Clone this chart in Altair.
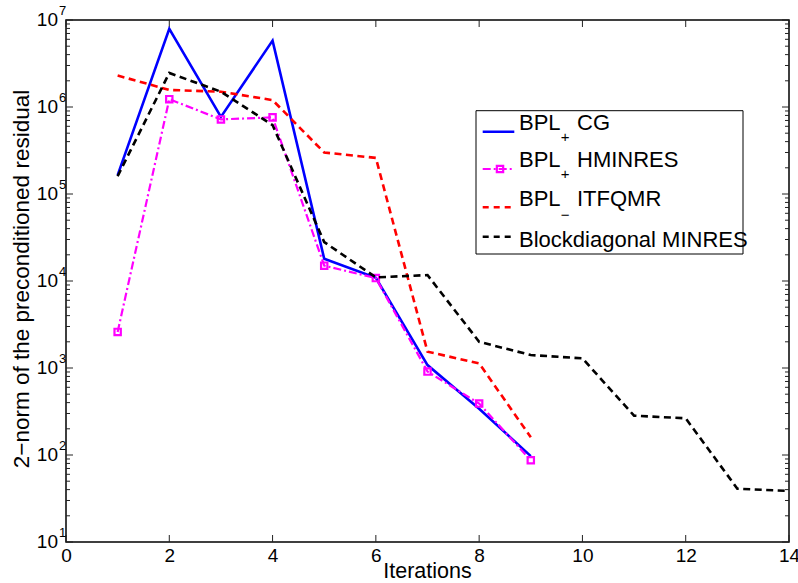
import altair as alt
import pandas as pd

# ---------------- data ----------------
iterations = list(range(1, 15))
cg_res = [1.65e5, 7.9e6, 7.7e5, 5.8e6, 1.8e4, 1.09e4, 1.08e3, 3.4e2, 9.7e1]
hminres_res = [2.6e3, 1.23e6, 7.2e5, 7.6e5, 1.5e4, 1.08e4, 9.1e2, 3.9e2, 8.7e1]
itfqmr_res = [2.3e6, 1.57e6, 1.5e6, 1.2e6, 3.0e5, 2.6e5, 1.54e3, 1.13e3, 1.6e2]
blockdiag_res = [1.6e5, 2.46e6, 1.5e6, 6.2e5, 2.8e4, 1.1e4, 1.17e4, 2.0e3, 1.41e3,
                 1.29e3, 2.83e2, 2.64e2, 4.1e1, 3.86e1]

x_tick_values = [0, 2, 4, 6, 8, 10, 12, 14]
y_decades = [1e1, 1e2, 1e3, 1e4, 1e5, 1e6, 1e7]
y_exponents = ["1", "2", "3", "4", "5", "6", "7"]
y_minor = [m * d for d in [1e1, 1e2, 1e3, 1e4, 1e5, 1e6] for m in range(2, 10)]

legend_main = ["BPL", "BPL", "BPL", "Blockdiagonal MINRES"]
legend_sub = ["+", "+", "\u2212", ""]
legend_rest = ["CG", "HMINRES", "ITFQMR", ""]

x_title = "Iterations"
y_title = "2\u2212norm of the preconditioned residual"

# ---------------- layout / style ----------------
FONT = "Liberation Sans"
W, H = 723, 522
BLUE, MAGENTA, RED, BLACK = "#0000ff", "#ff00ff", "#ff0000", "#000000"

xs = alt.Scale(domain=[0, 14], nice=False, zero=False)
ys = alt.Scale(type="log", domain=[10, 1e7], nice=False)
x_axis = alt.Axis(values=x_tick_values, ticks=False, domain=False, grid=False,
                  labelFontSize=19, labelFont=FONT, labelColor="black",
                  labelPadding=4, title=None, labelFlush=False)
y_axis = alt.Axis(labels=False, ticks=False, domain=False, grid=False, title=None)


def sdf(vals):
    return pd.DataFrame({"iter": iterations[:len(vals)], "res": vals})


def line(vals, color, width, dash=None):
    kw = dict(color=color, strokeWidth=width)
    if dash:
        kw["strokeDash"] = dash
    return alt.Chart(sdf(vals)).mark_line(**kw).encode(
        x=alt.X("iter:Q", scale=xs, axis=x_axis),
        y=alt.Y("res:Q", scale=ys, axis=y_axis),
    )


DASH = [7, 4.5]
DASHDOT = [8, 3, 2, 3]

cg_line = line(cg_res, BLUE, 2.6)
hm_line = line(hminres_res, MAGENTA, 2.2, DASHDOT)
hm_pts = alt.Chart(sdf(hminres_res)).mark_point(
    shape="square", filled=False, color=MAGENTA, size=40, strokeWidth=2.2, opacity=1
).encode(x=alt.X("iter:Q", scale=xs, axis=x_axis), y=alt.Y("res:Q", scale=ys, axis=y_axis))
it_line = line(itfqmr_res, RED, 2.6, DASH)
bd_line = line(blockdiag_res, BLACK, 2.6, DASH)

# ---------------- ticks (inward, MATLAB style) ----------------
xt = pd.DataFrame({"t": x_tick_values})
ytd = pd.DataFrame({"t": y_decades, "e": y_exponents})
ytm = pd.DataFrame({"t": y_minor})
TC = "#222222"


def xtick(y0, y1):
    return alt.Chart(xt).mark_rule(color=TC, strokeWidth=1).encode(
        x=alt.X("t:Q", scale=xs, axis=x_axis), y=alt.value(y0), y2=alt.value(y1))


def ytick(df, x0, x1):
    return alt.Chart(df).mark_rule(color=TC, strokeWidth=1).encode(
        y=alt.Y("t:Q", scale=ys, axis=y_axis), x=alt.value(x0), x2=alt.value(x1))


ticks = [xtick(H, H - 7), xtick(0, 7),
         ytick(ytd, 0, 7), ytick(ytd, W - 7, W),
         ytick(ytm, 0, 4), ytick(ytm, W - 4, W)]

# y tick labels 10^k
ylab10 = alt.Chart(ytd).mark_text(align="right", baseline="middle", fontSize=19,
                                  font=FONT, color="black").encode(
    y=alt.Y("t:Q", scale=ys, axis=y_axis), x=alt.value(-8), text=alt.value("10"))
ylabexp = alt.Chart(ytd).mark_text(align="left", baseline="alphabetic", fontSize=13,
                                   font=FONT, color="black", dy=-5).encode(
    y=alt.Y("t:Q", scale=ys, axis=y_axis), x=alt.value(-7), text="e:N")

one = pd.DataFrame({"a": [0]})
xtitle = alt.Chart(one).mark_text(align="center", baseline="alphabetic", fontSize=21.5,
                                  font=FONT, color="black").encode(
    x=alt.value(W / 2), y=alt.value(558), text=alt.value(x_title))
ytitle = alt.Chart(one).mark_text(align="center", baseline="middle", fontSize=22.5,
                                  font=FONT, color="black", angle=270).encode(
    x=alt.value(-44), y=alt.value(259), text=alt.value(y_title))

# ---------------- legend ----------------
leg_box = alt.Chart(one).mark_rect(fill="white", stroke="black", strokeWidth=1).encode(
    x=alt.value(410), x2=alt.value(677), y=alt.value(90.7), y2=alt.value(234))

sample_y = [111.7, 149, 187.3, 216.7]
styles = [(BLUE, 2.6, None), (MAGENTA, 2.2, DASHDOT), (RED, 2.6, [6, 5]), (BLACK, 2.6, [6, 5])]
samples = []
for sy, (c, w, d) in zip(sample_y, styles):
    kw = dict(color=c, strokeWidth=w)
    if d:
        kw["strokeDash"] = d
    samples.append(alt.Chart(one).mark_rule(**kw).encode(
        x=alt.value(416.7), x2=alt.value(448.3), y=alt.value(sy)))
samples.append(alt.Chart(one).mark_point(shape="square", filled=False, color=MAGENTA,
                                         size=40, strokeWidth=2.2, opacity=1).encode(
    x=alt.value(434), y=alt.value(149)))

leg_df = pd.DataFrame({
    "main": legend_main, "sub": legend_sub, "rest": legend_rest,
    "by": [110, 147.3, 186, 226.7],
    "sy": [117, 154, 195, 226.7],
})
leg_main = alt.Chart(leg_df).mark_text(align="left", baseline="alphabetic", fontSize=22,
                                       font=FONT, color="black").encode(
    x=alt.value(453), y=alt.Y("by:Q", scale=None), text="main:N")
leg_sub = alt.Chart(leg_df).mark_text(align="center", baseline="middle", fontSize=15,
                                      font=FONT, color="black").encode(
    x=alt.value(499), y=alt.Y("sy:Q", scale=None), text="sub:N")
leg_rest = alt.Chart(leg_df).mark_text(align="left", baseline="alphabetic", fontSize=22,
                                       font=FONT, color="black").encode(
    x=alt.value(511), y=alt.Y("by:Q", scale=None), text="rest:N")

chart = alt.layer(
    *ticks, cg_line, hm_line, hm_pts, it_line, bd_line,
    ylab10, ylabexp, xtitle, ytitle,
    leg_box, *samples, leg_main, leg_sub, leg_rest,
).properties(
    width=W, height=H,
    autosize=alt.AutoSizeParams(type="none"),
    padding={"left": 66, "top": 20, "right": 9, "bottom": 41},
    background="white",
).configure_view(stroke="black", strokeWidth=1.5)

chart.save("out.html", embed_options={"renderer": "svg", "actions": False})
